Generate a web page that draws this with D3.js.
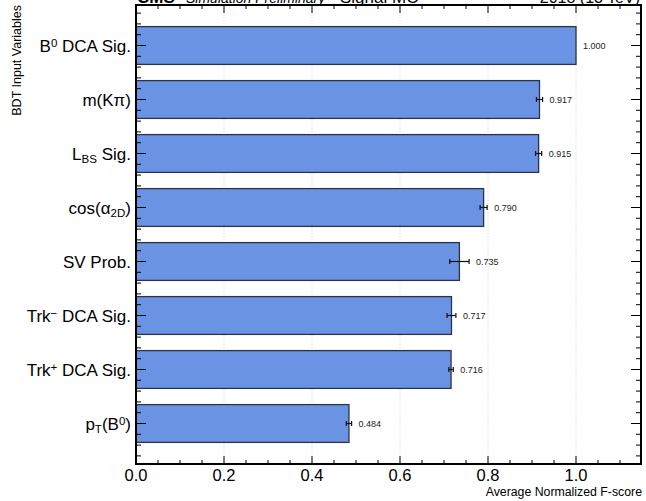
<!DOCTYPE html>
<html><head><meta charset="utf-8">
<script src="https://cdn.jsdelivr.net/npm/d3@7"></script>
<style>
html,body{margin:0;padding:0;background:#fff;}
svg{display:block;font-family:"Liberation Sans",Arial,Helvetica,sans-serif;}
</style></head>
<body><svg id="c" width="646" height="501"></svg>
<script>
// ---- data ----
const categories = ["B^{0} DCA Sig.", "m(Kπ)", "L_{BS} Sig.", "cos(α_{2D})", "SV Prob.", "Trk^{−} DCA Sig.", "Trk^{+} DCA Sig.", "p_{T}(B^{0})"];
const values = [1.000, 0.917, 0.915, 0.790, 0.735, 0.717, 0.716, 0.484];
const errors = [0.000, 0.007, 0.007, 0.008, 0.022, 0.010, 0.005, 0.006];
const valueLabels = ["1.000", "0.917", "0.915", "0.790", "0.735", "0.717", "0.716", "0.484"];
const xTicks = [0.0, 0.2, 0.4, 0.6, 0.8, 1.0];
const xTitle = "Average Normalized F-score";
const yTitle = "BDT Input Variables";

const svg = d3.select("#c");
const L = 136, R = 641, T = 5, B = 464;
const x = d3.scaleLinear().domain([0, 1.1477]).range([L, R]);
const y = d3.scaleLinear().domain([-0.75, categories.length - 0.25]).range([T, B]);
const barHalf = 0.35;

// partially visible title (cut at top)
const title = svg.append("g").attr("font-size", 17);
title.append("text").attr("x", 137).attr("y", 3).attr("font-weight", "bold").text("CMS");
title.append("text").attr("x", 186).attr("y", 3).attr("font-style", "italic").attr("font-size", 14).text("Simulation Preliminary");
title.append("text").attr("x", 340).attr("y", 3).attr("font-size", 17).text("Signal MC");
title.append("text").attr("x", 640).attr("y", 3).attr("text-anchor", "end").attr("font-size", 16).text("2018 (13 TeV)");

// grid
svg.append("g").selectAll("line").data(xTicks.filter(d => d > 0)).join("line")
  .attr("x1", d => x(d)).attr("x2", d => x(d)).attr("y1", T).attr("y2", B)
  .attr("stroke", "#d4d4d4").attr("stroke-width", 0.8).attr("stroke-dasharray", "1.5,1.5");

// bars
svg.append("g").selectAll("rect").data(values).join("rect")
  .attr("x", x(0)).attr("y", (d, i) => y(i - barHalf))
  .attr("width", d => x(d) - x(0)).attr("height", y(barHalf) - y(0) + (y(0) - y(0)) + (y(barHalf) - y(-barHalf)) - (y(barHalf) - y(0)))
  .attr("fill", "#6b93e4").attr("stroke", "#2c3344").attr("stroke-width", 1.3);

// error bars
const eb = svg.append("g").attr("stroke", "#111").attr("stroke-width", 1.2);
values.forEach((v, i) => {
  const e = errors[i];
  if (e <= 0) return;
  eb.append("line").attr("x1", x(v - e)).attr("x2", x(v + e)).attr("y1", y(i)).attr("y2", y(i));
  [v - e, v + e].forEach(b => eb.append("line").attr("x1", x(b)).attr("x2", x(b)).attr("y1", y(i) - 2.5).attr("y2", y(i) + 2.5));
});

// value labels
svg.append("g").selectAll("text").data(values).join("text")
  .attr("x", (d, i) => x(d + errors[i]) + 7).attr("y", (d, i) => y(i) + 3.2)
  .attr("font-size", 9).attr("fill", "#222").text((d, i) => valueLabels[i]);

// ticks
const tk = svg.append("g").attr("stroke", "#000").attr("stroke-width", 1);
// x major / minor (bottom and top)
d3.range(0, 1.1477, 0.05).forEach((t, k) => {
  const major = k % 4 === 0;
  const len = major ? 8 : 4;
  tk.append("line").attr("x1", x(t)).attr("x2", x(t)).attr("y1", B).attr("y2", B - len);
  tk.append("line").attr("x1", x(t)).attr("x2", x(t)).attr("y1", T).attr("y2", T + len);
});
// y major / minor (left and right)
d3.range(-3, categories.length * 5 - 1).forEach(k => {
  const t = k / 5;
  if (t < -0.75 || t > categories.length - 0.25) return;
  const major = k % 5 === 0;
  const len = major ? 10 : 5;
  tk.append("line").attr("x1", L).attr("x2", L + len).attr("y1", y(t)).attr("y2", y(t));
  tk.append("line").attr("x1", R).attr("x2", R - len).attr("y1", y(t)).attr("y2", y(t));
});

// frame
svg.append("rect").attr("x", L).attr("y", T).attr("width", R - L).attr("height", B - T)
  .attr("fill", "none").attr("stroke", "#000").attr("stroke-width", 2);

// x tick labels
svg.append("g").selectAll("text").data(xTicks).join("text")
  .attr("x", d => x(d)).attr("y", 481).attr("text-anchor", "middle")
  .attr("font-size", 16.5).text(d => d.toFixed(1));

// category labels with sub/superscripts
function rich(sel, s, size) {
  const re = /([\^_])\{([^}]*)\}|([^\^_]+)/g;
  let m;
  while ((m = re.exec(s)) !== null) {
    if (m[3]) sel.append("tspan").attr("font-size", size).text(m[3]);
    else {
      const sup = m[1] === "^";
      sel.append("tspan").attr("font-size", size * 0.68)
        .attr("baseline-shift", sup ? "42%" : "-22%").text(m[2]);
    }
  }
}
const cl = svg.append("g");
categories.forEach((c, i) => {
  const t = cl.append("text").attr("x", 131).attr("y", y(i) + 6).attr("text-anchor", "end");
  rich(t, c, 17);
});

// axis titles
svg.append("text").attr("x", 642).attr("y", 496).attr("text-anchor", "end")
  .attr("font-size", 12.3).text(xTitle);
svg.append("text").attr("transform", "translate(21,5) rotate(-90)").attr("text-anchor", "end")
  .attr("font-size", 12.5).text(yTitle);
</script></body></html>
